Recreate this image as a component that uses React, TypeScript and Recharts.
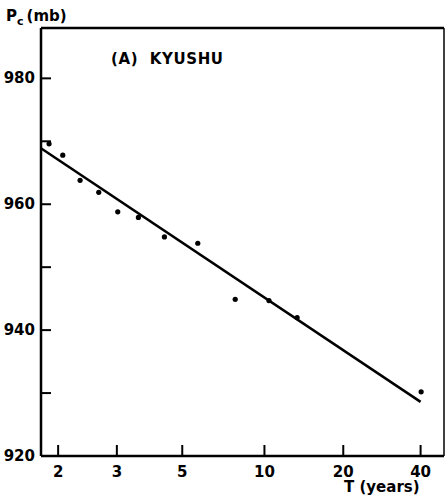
import { ComposedChart, Scatter, Line, XAxis, YAxis, ReferenceLine } from "recharts";

// return period T (years) vs central pressure Pc (mb)
const periods = [1.89, 2.06, 2.31, 2.63, 3.02, 3.53, 4.33, 5.68, 7.78, 10.4, 13.3, 40.2];
const pressures = [969.6, 967.8, 963.8, 961.9, 958.8, 957.9, 954.8, 953.8, 944.9, 944.7, 942.0, 930.2];

// fitted line end points
const fitPeriods = [1.8, 40];
const fitPressures = [968.9, 928.6];

const periodTicks = [2, 3, 5, 10, 20, 40];
const pressureTicks = [920, 930, 940, 950, 960, 970, 980];

// Gumbel reduced variate, the x scale of extreme value paper
const gumbel = (t: number) => -Math.log(-Math.log(1 - 1 / t));

const points = periods.map((t, i) => ({ u: gumbel(t), p: pressures[i] }));
const fit = fitPeriods.map((t, i) => ({ u: gumbel(t), p: fitPressures[i] }));

const FONT = "'DejaVu Sans', sans-serif";
const X_MIN = 0.21;
const X_MAX = 3.89;
const Y_MIN = 920;
const Y_MAX = 988;

function XTick(props: any) {
  const { x, y, index } = props;
  return (
    <g>
      <line x1={x} x2={x} y1={y} y2={y - 11} stroke="#000" strokeWidth={2} />
      <text x={x} y={y + 21} textAnchor="middle" fontSize={15} fontWeight="bold" fontFamily={FONT} fill="#000">
        {periodTicks[index]}
      </text>
    </g>
  );
}

function YTick(props: any) {
  const { x, y, payload } = props;
  const v = payload.value;
  return (
    <g>
      <line x1={x} x2={x + 10} y1={y} y2={y} stroke="#000" strokeWidth={2} />
      {v % 20 === 0 && (
        <text x={x - 6} y={y + 5} textAnchor="end" fontSize={15} fontWeight="bold" fontFamily={FONT} fill="#000">
          {v}
        </text>
      )}
    </g>
  );
}

export default function App() {
  return (
    <div style={{ position: "absolute", left: 0, top: 0, width: 445, height: 502, background: "#fff" }}>
      <ComposedChart
        width={445}
        height={502}
        margin={{ top: 28, right: 1, left: 0, bottom: 16 }}
        style={{ fontFamily: FONT }}
      >
        <XAxis
          type="number"
          dataKey="u"
          domain={[X_MIN, X_MAX]}
          ticks={periodTicks.map(gumbel)}
          interval={0}
          allowDataOverflow
          height={30}
          tickSize={0}
          tickMargin={0}
          tick={<XTick />}
          axisLine={{ stroke: "#000", strokeWidth: 2.5 }}
        />
        <YAxis
          type="number"
          dataKey="p"
          domain={[Y_MIN, Y_MAX]}
          ticks={pressureTicks}
          interval={0}
          allowDataOverflow
          width={41}
          tickSize={0}
          tickMargin={0}
          tick={<YTick />}
          axisLine={{ stroke: "#000", strokeWidth: 2.5 }}
        />
        <ReferenceLine y={Y_MAX} stroke="#000" strokeWidth={2.5} />
        <ReferenceLine x={X_MAX} stroke="#000" strokeWidth={1.5} />
        <Line
          data={fit}
          dataKey="p"
          stroke="#000"
          strokeWidth={2.5}
          dot={false}
          isAnimationActive={false}
        />
        <Scatter
          data={points}
          dataKey="p"
          fill="#000"
          isAnimationActive={false}
          shape={(p: any) => <circle cx={p.cx} cy={p.cy} r={2.6} fill="#000" />}
        />
      </ComposedChart>
      <svg
        width={445}
        height={502}
        style={{ position: "absolute", left: 0, top: 0, pointerEvents: "none" }}
        fontFamily={FONT}
        fontWeight="bold"
      >
        <text x={6} y={21} fontSize={15} fill="#000">
          P
          <tspan dy={4} fontSize={11}>c</tspan>
          <tspan dy={-4} dx={3} fontSize={15}>(mb)</tspan>
        </text>
        <text x={111} y={64} fontSize={15} fill="#000" letterSpacing={0.6} style={{ whiteSpace: "pre" }}>
          (A)  KYUSHU
        </text>
        <text x={344} y={492} fontSize={15} fill="#000">
          T (years)
        </text>
      </svg>
    </div>
  );
}
